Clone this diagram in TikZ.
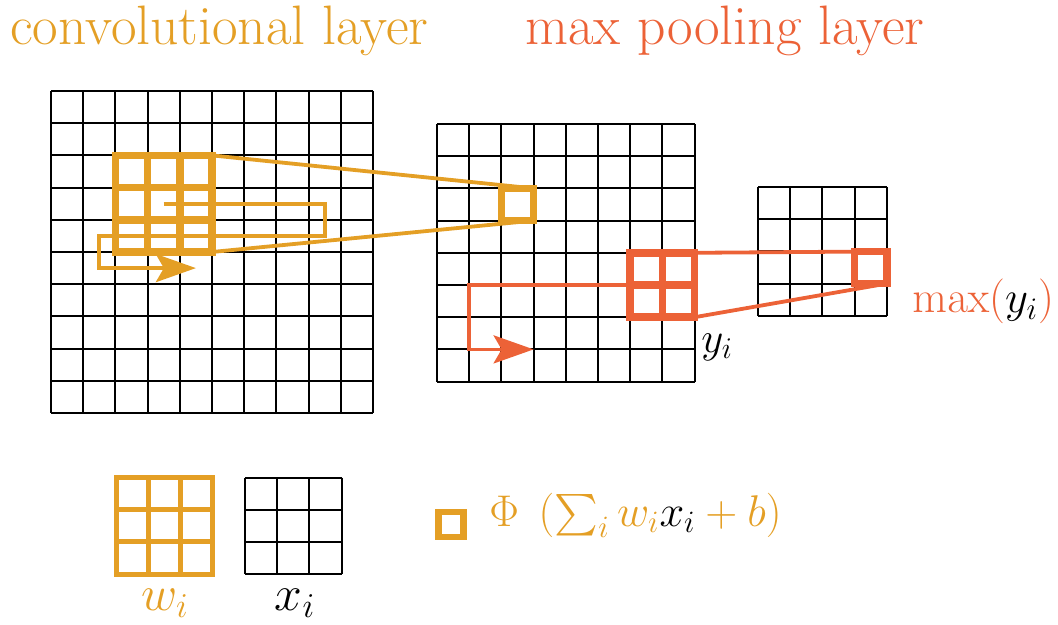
\RequirePackage{fix-cm}
\documentclass[tikz,border=0pt]{standalone}
\usepackage{amsmath}
\usepackage{xcolor}
\usepackage{tikz}
\usetikzlibrary{arrows.meta, calc}
\definecolor{convorange}{RGB}{228,159,37}
\definecolor{poolred}{RGB}{236,98,55}

\begin{document}
\begin{tikzpicture}[x=0.5pt, y=-0.5pt, >=Stealth,
  gridline/.style={black, line width=1pt},
  window/.style={rectangle, inner sep=0pt, outer sep=0pt},
  thickbox/.style={line width=3.8pt, line join=miter},
  thinpath/.style={line width=1.9pt},
  bigtip/.style={-{Stealth[length=20pt, width=14pt, inset=4pt]}},
  label/.style={inner sep=0pt, anchor=base west}]
\useasboundingbox (0,0) rectangle (1058,625);

% titles
\node[label, convorange, font=\fontsize{27.8}{30}\selectfont] (convtitle) at (10,45) {convolutional layer};
\node[label, poolred, font=\fontsize{27.8}{30}\selectfont] (pooltitle) at (525,45) {max pooling layer};

% input map (10x10), convolved map (8x8), pooled map (4x4)
\begin{scope}[shift={(51,91)}]
  \foreach \k in {0,...,10} {
    \draw[gridline] (\k*32.2,0) -- (\k*32.2,322);
    \draw[gridline] (0,\k*32.2) -- (322,\k*32.2);
  }
\end{scope}
\begin{scope}[shift={(437,124)}]
  \foreach \k in {0,...,8} {
    \draw[gridline] (\k*32.2,0) -- (\k*32.2,257.6);
    \draw[gridline] (0,\k*32.2) -- (257.6,\k*32.2);
  }
\end{scope}
\begin{scope}[shift={(758,187)}]
  \foreach \k in {0,...,4} {
    \draw[gridline] (\k*32.2,0) -- (\k*32.2,128.8);
    \draw[gridline] (0,\k*32.2) -- (128.8,\k*32.2);
  }
\end{scope}

% windows
\node[window, minimum size=48.3pt] (kernel) at (163.7,203.7) {};
\node[window, minimum size=16.1pt] (convout) at (517.5,204.5) {};
\node[window, minimum size=32.2pt] (poolwin) at (662.4,285) {};
\node[window, minimum size=16.1pt] (poolout) at (870.7,267.5) {};

% sliding paths
\draw[thinpath, convorange, bigtip] (kernel.center) -- ++(161,0) -- ++(0,32.2) -- ++(-225.4,0) -- ++(0,32.2) -- ++(96.6,0);
\draw[thinpath, poolred, bigtip] (poolwin.center) -- ++(-193.2,0) -- ++(0,64.4) -- ++(64.4,0);

% projections
\draw[thinpath, convorange] (kernel.north east) -- (convout.north east);
\draw[thinpath, convorange] (kernel.south east) -- (convout.south east);
\draw[thinpath, poolred] (poolwin.north east) -- (poolout.north east);
\draw[thinpath, poolred] (poolwin.south east) -- (poolout.south east);

% kernel 3x3
\draw[thickbox, convorange] (kernel.north west) rectangle (kernel.south east);
\foreach \k in {1,2} {
  \draw[thickbox, convorange] ($(kernel.north west)+(\k*32.2,0)$) -- ($(kernel.south west)+(\k*32.2,0)$);
  \draw[thickbox, convorange] ($(kernel.north west)+(0,\k*32.2)$) -- ($(kernel.north east)+(0,\k*32.2)$);
}
\draw[thickbox, convorange] (convout.north west) rectangle (convout.south east);

% pooling 2x2
\draw[thickbox, poolred] (poolwin.north west) rectangle (poolwin.south east);
\draw[thickbox, poolred] (poolwin.north) -- (poolwin.south);
\draw[thickbox, poolred] (poolwin.west) -- (poolwin.east);
\draw[thickbox, poolred] (poolout.north west) rectangle (poolout.south east);

% labels
\node[label, font=\fontsize{21.5}{26}\selectfont] (ylabel) at (701,352) {$y_i$};
\node[label, poolred, font=\fontsize{22.4}{26}\selectfont] (maxlabel) at (912,313) {$\max({\color{black}y_i})$};

% legend
\begin{scope}[shift={(116,477.5)}]
  \draw[convorange, line width=2.5pt] (0,0) rectangle (96.6,96.6);
  \foreach \k in {1,2} {
    \draw[convorange, line width=2.5pt] (\k*32.2,0) -- (\k*32.2,96.6);
    \draw[convorange, line width=2.5pt] (0,\k*32.2) -- (96.6,\k*32.2);
  }
\end{scope}
\begin{scope}[shift={(245,477.5)}]
  \foreach \k in {0,...,3} {
    \draw[gridline] (\k*32.2,0) -- (\k*32.2,96.6);
    \draw[gridline] (0,\k*32.2) -- (96.6,\k*32.2);
  }
\end{scope}
\node[label, anchor=base, convorange, font=\fontsize{24.9}{28}\selectfont] (wlabel) at (165,610) {$w_i$};
\node[label, anchor=base, font=\fontsize{24.9}{28}\selectfont] (xlabel) at (295,610) {$x_i$};
\node[window, draw=convorange, line width=3.2pt, minimum size=12.5pt] (actbox) at (451,524.5) {};
\node[label, convorange, font=\fontsize{22.2}{26}\selectfont] (actlabel) at (489,526) {$\Phi\;\left(\sum_i w_i{\color{black}x_i}+b\right)$};

\end{tikzpicture}
\end{document}
